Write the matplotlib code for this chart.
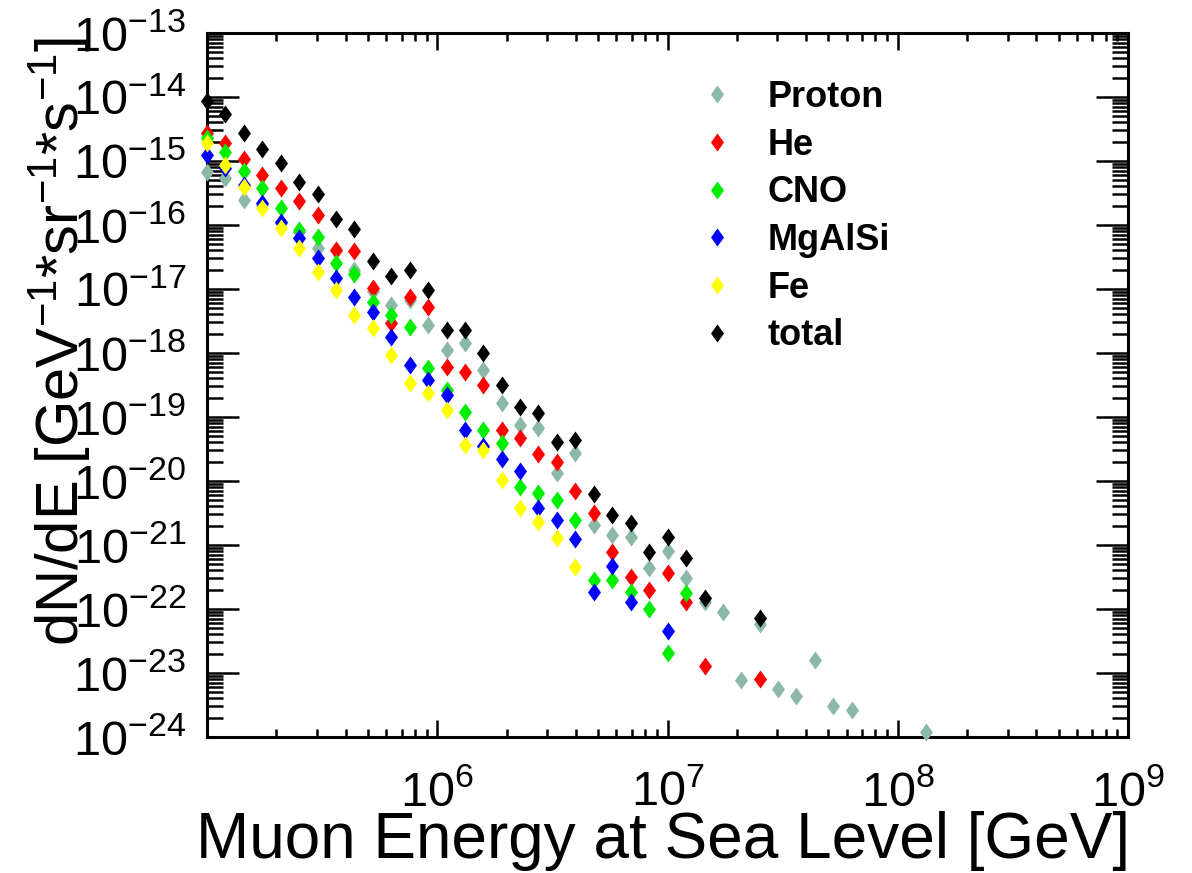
import numpy as np
import matplotlib
matplotlib.use("Agg")
import matplotlib.pyplot as plt
from matplotlib.ticker import LogLocator, NullFormatter

plt.rcParams['font.family'] = ['Liberation Sans', 'DejaVu Sans']
plt.rcParams['mathtext.fontset'] = 'custom'
plt.rcParams['mathtext.rm'] = 'Liberation Sans'
plt.rcParams['mathtext.it'] = 'Liberation Sans:italic'
plt.rcParams['mathtext.bf'] = 'Liberation Sans:bold'
plt.rcParams['mathtext.default'] = 'regular'

# ---------------- data (muon energy at sea level [GeV], flux) ----------------
energy = [1.00e5, 1.20e5, 1.45e5, 1.74e5, 2.09e5, 2.51e5, 3.02e5, 3.63e5, 4.37e5, 5.25e5,
          6.31e5, 7.59e5, 9.12e5, 1.10e6, 1.32e6, 1.58e6, 1.91e6, 2.29e6, 2.75e6, 3.31e6,
          3.98e6, 4.79e6, 5.75e6, 6.92e6, 8.32e6, 1.00e7, 1.20e7, 1.45e7, 1.74e7, 2.09e7,
          2.51e7, 3.02e7, 3.63e7, 4.37e7, 5.25e7, 6.31e7, 1.32e8]

proton_e = energy
proton = [6.73e-16, 5.42e-16, 2.46e-16, 2.05e-16, 1.07e-16, 7.77e-17, 4.37e-17, 4.07e-17, 1.98e-17, 9.31e-18,
          5.62e-18, 6.73e-18, 2.74e-18, 1.11e-18, 1.43e-18, 5.42e-19, 1.66e-19, 7.50e-20, 6.73e-20, 1.33e-20,
          2.74e-20, 2.05e-21, 1.43e-21, 1.33e-21, 4.37e-22, 8.06e-22, 3.05e-22, 1.29e-22, 8.97e-23, 7.77e-24,
          5.83e-23, 5.62e-24, 4.37e-24, 1.60e-23, 3.05e-24, 2.64e-24, 1.20e-24]

he_e = energy[:28] + [energy[30]]
he = [2.74e-15, 1.91e-15, 1.07e-15, 6.04e-16, 3.79e-16, 2.37e-16, 1.43e-16, 4.07e-17, 3.92e-17, 1.04e-17,
      2.94e-18, 7.50e-18, 5.23e-18, 6.04e-19, 5.05e-19, 3.16e-19, 6.27e-20, 4.70e-20, 2.64e-20, 1.98e-20,
      6.98e-21, 3.16e-21, 7.77e-22, 3.16e-22, 1.98e-22, 3.65e-22, 1.29e-22, 1.29e-23, 8.06e-24]

cno_e = energy[:27]
cno = [2.29e-15, 1.38e-15, 6.98e-16, 3.79e-16, 1.84e-16, 8.35e-17, 6.49e-17, 2.55e-17, 1.71e-17, 6.27e-18,
       3.92e-18, 2.55e-18, 5.83e-19, 2.64e-19, 1.20e-19, 6.27e-20, 3.92e-20, 8.06e-21, 6.49e-21, 5.05e-21,
       2.46e-21, 2.84e-22, 2.84e-22, 1.84e-22, 1.00e-22, 2.05e-23, 1.78e-22]

mgalsi_e = energy[:24] + [energy[25]]
mgalsi = [1.24e-15, 7.77e-16, 4.22e-16, 2.21e-16, 1.11e-16, 6.27e-17, 3.05e-17, 1.49e-17, 7.50e-18, 4.37e-18,
          1.78e-18, 6.49e-19, 3.79e-19, 2.21e-19, 6.27e-20, 3.52e-20, 2.21e-20, 1.43e-20, 3.79e-21, 2.46e-21,
          1.24e-21, 1.84e-22, 4.70e-22, 1.29e-22, 4.53e-23]

fe_e = energy[:21]
fe = [1.91e-15, 8.66e-16, 3.92e-16, 1.84e-16, 8.97e-17, 4.37e-17, 1.84e-17, 9.64e-18, 3.92e-18, 2.46e-18,
      9.31e-19, 3.40e-19, 2.37e-19, 1.29e-19, 3.65e-20, 3.05e-20, 1.04e-20, 3.79e-21, 2.29e-21, 1.29e-21,
      4.53e-22]

total_e = energy[:28] + [energy[30]]
total = [8.66e-15, 5.42e-15, 2.74e-15, 1.54e-15, 9.31e-16, 4.70e-16, 3.05e-16, 1.24e-16, 8.66e-17, 2.74e-17,
         1.60e-17, 1.98e-17, 9.64e-18, 2.29e-18, 2.29e-18, 1.00e-18, 3.16e-19, 1.43e-19, 1.15e-19, 4.07e-20,
         4.37e-20, 6.27e-21, 2.94e-21, 2.21e-21, 7.77e-22, 1.33e-21, 6.27e-22, 1.49e-22, 7.23e-23]

labels = ["Proton", "He", "CNO", "MgAlSi", "Fe", "total"]
colors = ["#8cb8a6", "#ff0000", "#00ee00", "#0000ff", "#ffff00", "#000000"]

x_ticks = [1e5, 1e6, 1e7, 1e8, 1e9]
x_ticklabels = ["", r"$10^{6}$", r"$10^{7}$", r"$10^{8}$", r"$10^{9}$"]

# ---------------- figure ----------------
W, H = 1192, 873
fig = plt.figure(figsize=(W / 100, H / 100), dpi=100)
ax = fig.add_axes([207 / W, (H - 737) / H, (1128 - 207) / W, (737 - 33) / H])
ax.set_xscale("log")
ax.set_yscale("log")
ax.set_xlim(1e5, 1e9)
ax.set_ylim(1e-24, 1e-13)

diamond = [(0, 1), (0.72, 0), (0, -1), (-0.72, 0), (0, 1)]
ms = 13

series = [(proton_e, proton), (he_e, he), (cno_e, cno), (mgalsi_e, mgalsi), (fe_e, fe), (total_e, total)]
handles = [None] * 6
draw_order = [5, 0, 1, 2, 3, 4]
for i in draw_order:
    xs, ys = series[i]
    h, = ax.plot(xs, ys, linestyle="none", marker=diamond, markersize=ms,
                 color=colors[i], markeredgewidth=0, clip_on=False, zorder=3 + i)
    handles[i] = h

# axes styling (ROOT-like)
for sp in ax.spines.values():
    sp.set_linewidth(2.2)
ax.set_xticks(x_ticks, labels=x_ticklabels)
ax.xaxis.set_minor_locator(LogLocator(base=10, subs=np.arange(2, 10), numticks=100))
ax.xaxis.set_minor_formatter(NullFormatter())
ax.yaxis.set_major_locator(LogLocator(base=10, numticks=100))
ax.yaxis.set_minor_locator(LogLocator(base=10, subs=np.arange(2, 10), numticks=100))
ax.yaxis.set_minor_formatter(NullFormatter())

ax.tick_params(axis="both", which="both", direction="in", top=True, right=True, width=1.8)
ax.tick_params(axis="x", which="major", length=12, labelsize=35, pad=24)
ax.tick_params(axis="x", which="minor", length=6)
ax.tick_params(axis="y", which="major", length=23, labelsize=35, pad=15)
ax.tick_params(axis="y", which="minor", length=11.5)

fig.text(1130 / W, (H - 858) / H, "Muon Energy at Sea Level [GeV]", fontsize=46,
         ha="right", va="baseline")
fig.text(60 / W, (H - 342) / H, r"dN/dE [GeV$^{-1}$*sr$^{-1}$*s$^{-1}$]", fontsize=43,
         rotation=90, ha="center", va="center")

leg = ax.legend(handles, labels, loc="upper left", bbox_to_anchor=(699 / W, (H - 80) / H),
                bbox_transform=fig.transFigure, frameon=False, borderpad=0, borderaxespad=0,
                handlelength=1.0, handletextpad=0.9, labelspacing=0.35,
                prop={"weight": "bold", "size": 26})

fig.savefig("out.png", dpi=100)
